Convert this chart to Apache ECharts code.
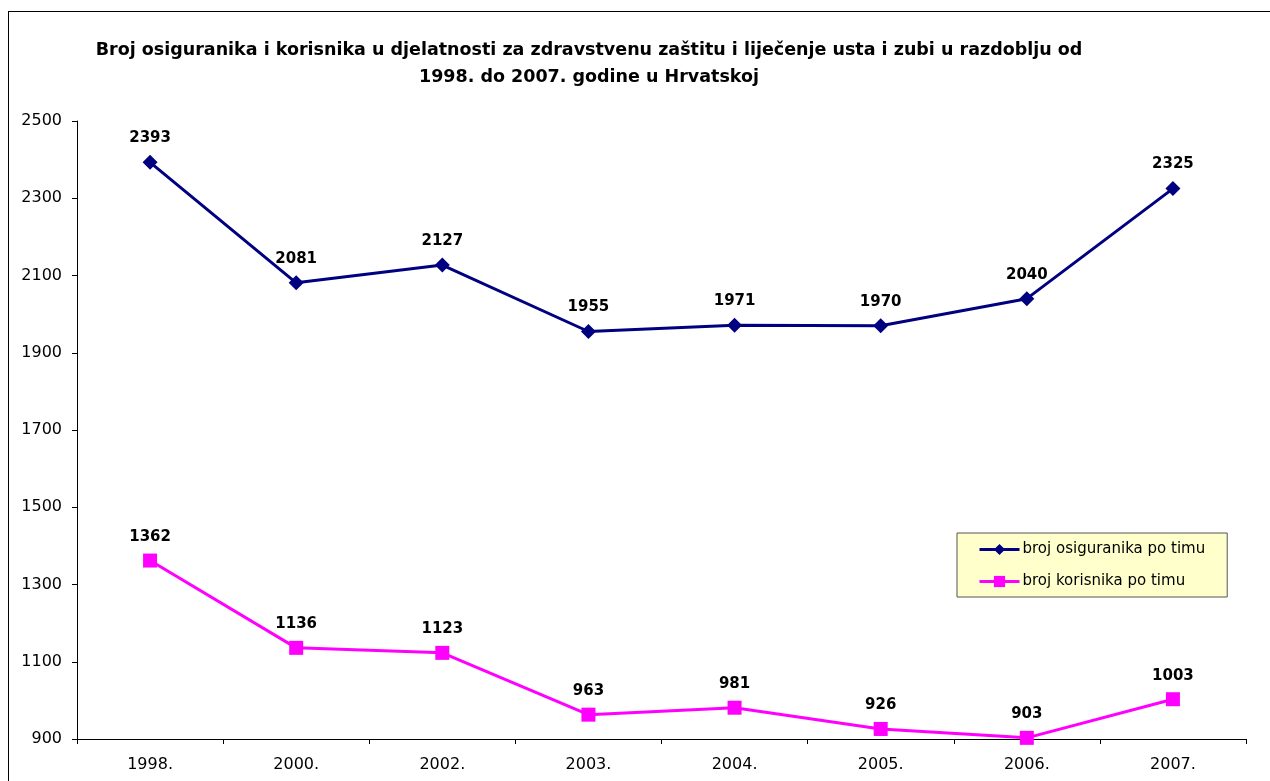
<!DOCTYPE html>
<html><head><meta charset="utf-8">
<script src="https://cdn.jsdelivr.net/npm/echarts@6/dist/echarts.min.js"></script>
<style>
html,body{margin:0;padding:0;background:#fff;}
#frame{position:absolute;left:8px;top:11px;width:1275px;height:780px;border:1px solid #000;box-sizing:border-box;}
#c{position:absolute;left:0;top:0;width:1270px;height:781px;}
</style></head>
<body>
<div id="frame"></div>
<div id="c"></div>
<script>
const categories = ['1998.','2000.','2002.','2003.','2004.','2005.','2006.','2007.'];
const osiguranici = [2393,2081,2127,1955,1971,1970,2040,2325];
const korisnici = [1362,1136,1123,963,981,926,903,1003];
const seriesNames = ['broj osiguranika po timu','broj korisnika po timu'];
const titleText = 'Broj osiguranika i korisnika u djelatnosti za zdravstvenu zaštitu i liječenje usta i zubi u razdoblju od\n1998. do 2007. godine u Hrvatskoj';

const FONT = '"DejaVu Sans", Arial, sans-serif';
const chart = echarts.init(document.getElementById('c'), null, {renderer:'canvas'});
chart.setOption({
  backgroundColor: 'transparent',
  animation: false,
  title: {
    text: titleText,
    left: 584, textAlign: 'center', top: 32,
    textStyle: {fontFamily: FONT, fontSize: 17.5, fontWeight: 'bold', color: '#000', lineHeight: 27, align: 'center'}
  },
  legend: {
    orient: 'vertical',
    left: 957, top: 533,
    padding: [9, 22, 8, 21],
    itemGap: 17,
    itemWidth: 40, itemHeight: 14,
    backgroundColor: '#FFFFCC',
    borderColor: '#555',
    borderWidth: 1,
    lineStyle: {width: 3},
    textStyle: {fontFamily: FONT, fontSize: 15, color: '#000', padding: [0,0,0,-2]},
    data: seriesNames
  },
  grid: {left: 77, right: 24, top: 121, bottom: 42, containLabel: false},
  xAxis: {
    type: 'category',
    data: categories,
    boundaryGap: true,
    axisLine: {lineStyle: {color: '#000', width: 1}},
    axisTick: {show: true, length: 5, lineStyle: {color: '#000'}},
    axisLabel: {fontFamily: FONT, fontSize: 16, color: '#000', margin: 18}
  },
  yAxis: {
    type: 'value',
    min: 900, max: 2500, interval: 200,
    axisLine: {show: true, lineStyle: {color: '#000', width: 1}},
    axisTick: {show: true, length: 5, lineStyle: {color: '#000'}},
    splitLine: {show: false},
    axisLabel: {fontFamily: FONT, fontSize: 16, color: '#000', margin: 15, formatter: v => String(v)}
  },
  series: [
    {
      name: seriesNames[0], type: 'line', data: osiguranici,
      symbol: 'diamond', symbolSize: 15,
      lineStyle: {color: '#000080', width: 3},
      itemStyle: {color: '#000080'},
      label: {show: true, position: 'top', distance: 9, fontFamily: FONT, fontSize: 15, fontWeight: 'bold', color: '#000'}
    },
    {
      name: seriesNames[1], type: 'line', data: korisnici,
      symbol: 'rect', symbolSize: 14,
      lineStyle: {color: '#FF00FF', width: 3},
      itemStyle: {color: '#FF00FF'},
      label: {show: true, position: 'top', distance: 9, fontFamily: FONT, fontSize: 15, fontWeight: 'bold', color: '#000'}
    }
  ]
});
</script>
</body></html>
